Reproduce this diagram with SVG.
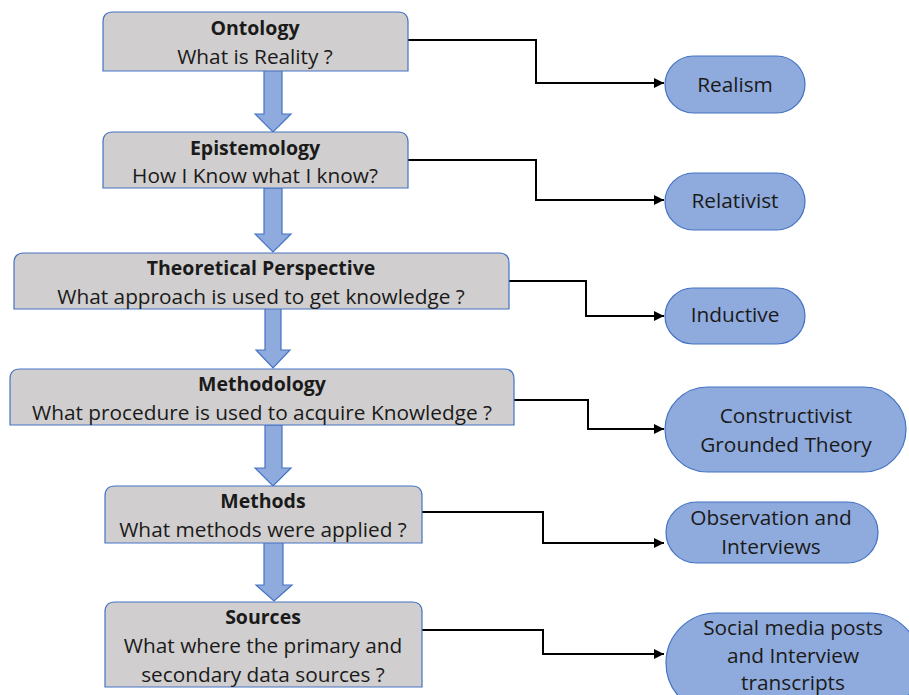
<svg xmlns="http://www.w3.org/2000/svg" width="909" height="695" viewBox="0 0 909 695">
  <style>
    .box { fill: #d0cece; stroke: #4472c4; stroke-width: 1.2; }
    .pill { fill: #8faadc; stroke: #4472c4; stroke-width: 1.2; }
    .flow { fill: #8faadc; stroke: #4472c4; stroke-width: 1.2; }
    .link { fill: none; stroke: #000; stroke-width: 2; marker-end: url(#tip); }
    text { font-family: "Open Sans", Lato, "Liberation Sans", sans-serif; font-size: 20.8px; fill: #1a1a1a; text-anchor: middle; }
    .title { font-weight: bold; font-size: 19.5px; }
  </style>
  <defs>
    <marker id="tip" viewBox="0 0 10 10" refX="10" refY="5" markerWidth="5" markerHeight="5" orient="auto" markerUnits="strokeWidth">
      <path d="M0,0 L10,5 L0,10 z" fill="#000"/>
    </marker>
  </defs>

  <!-- down arrows between the levels -->
  <g id="flow-arrows">
    <path class="flow" d="M264,70 H282 V114 H291 L273,132 L255,114 H264 Z"/>
    <path class="flow" d="M264,188 H282 V234 H291 L273,252 L255,234 H264 Z"/>
    <path class="flow" d="M265,308 H281 V350 H290 L273,368 L256,350 H265 Z"/>
    <path class="flow" d="M265,425 H282 V468 H291 L273,486 L255,468 H265 Z"/>
    <path class="flow" d="M264,542 H283 V585 H292 L274,601 L256,585 H264 Z"/>
  </g>

  <!-- elbow connectors to the answers -->
  <g id="connectors">
    <path class="link" d="M408,40 H536 V83 H664"/>
    <path class="link" d="M408,160 H536 V200 H664"/>
    <path class="link" d="M508,281 H586 V316 H664"/>
    <path class="link" d="M514,400 H588 V429 H664"/>
    <path class="link" d="M422,512 H543 V543 H664"/>
    <path class="link" d="M422,630 H543 V654 H664"/>
  </g>

  <!-- question boxes: rounded top corners, square bottom -->
  <g id="ontology">
    <path class="box" d="M103,71 V22 Q103,12 113,12 H398 Q408,12 408,22 V71 Z"/>
    <text class="title" x="255" y="35">Ontology</text>
    <text x="255" y="64">What is Reality ?</text>
  </g>
  <g id="epistemology">
    <path class="box" d="M103,188 V142 Q103,132 113,132 H398 Q408,132 408,142 V188 Z"/>
    <text class="title" x="255" y="155">Epistemology</text>
    <text x="255" y="183">How I Know what I know?</text>
  </g>
  <g id="theoretical-perspective">
    <path class="box" d="M14,309 V263 Q14,253 24,253 H499 Q509,253 509,263 V309 Z"/>
    <text class="title" x="261" y="275">Theoretical Perspective</text>
    <text x="261" y="304">What approach is used to get knowledge ?</text>
  </g>
  <g id="methodology">
    <path class="box" d="M10,425 V379 Q10,369 20,369 H504 Q514,369 514,379 V425 Z"/>
    <text class="title" x="262" y="391">Methodology</text>
    <text x="262" y="420">What procedure is used to acquire Knowledge ?</text>
  </g>
  <g id="methods">
    <path class="box" d="M105,543 V496 Q105,486 115,486 H412 Q422,486 422,496 V543 Z"/>
    <text class="title" x="263" y="508">Methods</text>
    <text x="263" y="537">What methods were applied ?</text>
  </g>
  <g id="sources">
    <path class="box" d="M105,687 V612 Q105,602 115,602 H412 Q422,602 422,612 V687 Z"/>
    <text class="title" x="263" y="624">Sources</text>
    <text x="263" y="653">What where the primary and</text>
    <text x="263" y="682">secondary data sources ?</text>
  </g>

  <!-- answers -->
  <g id="realism">
    <rect class="pill" x="665" y="56" width="140" height="57" rx="28.5"/>
    <text x="735" y="92">Realism</text>
  </g>
  <g id="relativist">
    <rect class="pill" x="665" y="173" width="140" height="57" rx="28.5"/>
    <text x="735" y="208">Relativist</text>
  </g>
  <g id="inductive">
    <rect class="pill" x="665" y="288" width="140" height="56" rx="28"/>
    <text x="735" y="322">Inductive</text>
  </g>
  <g id="constructivist-grounded-theory">
    <rect class="pill" x="665" y="387" width="241" height="85" rx="42.5"/>
    <text x="786" y="423">Constructivist</text>
    <text x="786" y="452">Grounded Theory</text>
  </g>
  <g id="observation-interviews">
    <rect class="pill" x="666" y="502" width="212" height="61" rx="30.5"/>
    <text x="771" y="525">Observation and</text>
    <text x="771" y="554">Interviews</text>
  </g>
  <g id="social-media-posts">
    <rect class="pill" x="666" y="613" width="254" height="100" rx="50"/>
    <text x="793" y="635">Social media posts</text>
    <text x="793" y="663">and Interview</text>
    <text x="793" y="690">transcripts</text>
  </g>
</svg>
